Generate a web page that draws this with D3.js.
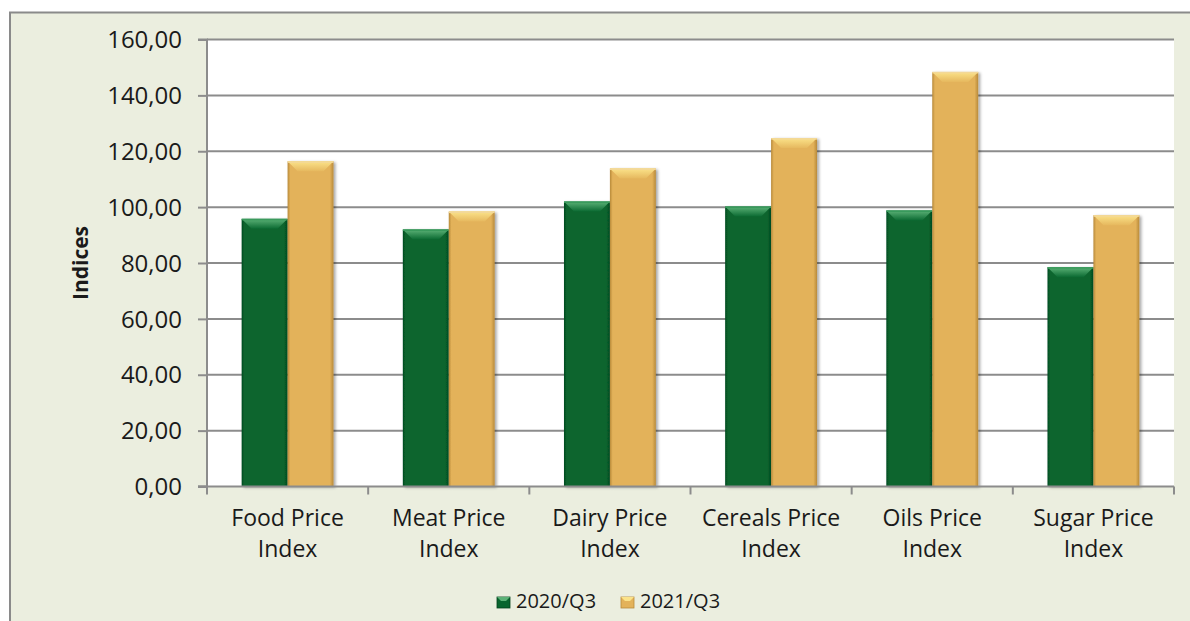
<!DOCTYPE html>
<html><head><meta charset="utf-8">
<script src="https://cdn.jsdelivr.net/npm/d3@7"></script>
<style>
html,body{margin:0;padding:0;background:#fff;}
svg{display:block;}
text{font-family:"Open Sans",sans-serif;fill:#1a1a1a;}
</style></head>
<body><svg id="c" width="1190" height="621"></svg>
<script>
const categories = [["Food Price","Index"],["Meat Price","Index"],["Dairy Price","Index"],["Cereals Price","Index"],["Oils Price","Index"],["Sugar Price","Index"]];
const seriesNames = ["2020/Q3","2021/Q3"];
const values2020 = [95.8, 92.0, 102.0, 100.2, 98.8, 78.5];
const values2021 = [116.4, 98.4, 113.8, 124.7, 148.4, 97.1];
const yTicks = [0,20,40,60,80,100,120,140,160];

const svg = d3.select("#c");
const W = 1190, H = 621;
const plot = {l:207, r:1174, t:39.5, b:486.5};

svg.append("rect").attr("x",0).attr("y",0).attr("width",W).attr("height",H).attr("fill","#fff");
svg.append("rect").attr("x",10).attr("y",12.5).attr("width",W).attr("height",H)
  .attr("fill","#ebeedf").attr("stroke","#8a8a8a").attr("stroke-width",2);
svg.append("rect").attr("x",plot.l).attr("y",plot.t).attr("width",plot.r-plot.l).attr("height",plot.b-plot.t).attr("fill","#fff");

const defs = svg.append("defs");
function bodyGrad(id, edge, mid){
  const g = defs.append("linearGradient").attr("id",id).attr("x1",0).attr("x2",1).attr("y1",0).attr("y2",0);
  g.append("stop").attr("offset",0).attr("stop-color",edge);
  g.append("stop").attr("offset",0.06).attr("stop-color",mid);
  g.append("stop").attr("offset",0.92).attr("stop-color",mid);
  g.append("stop").attr("offset",1).attr("stop-color",edge);
}
function bevGrad(id, top, bot){
  const g = defs.append("linearGradient").attr("id",id).attr("x1",0).attr("x2",0).attr("y1",0).attr("y2",1);
  g.append("stop").attr("offset",0).attr("stop-color",top);
  g.append("stop").attr("offset",1).attr("stop-color",bot);
}
bodyGrad("gBody","#054a20","#08652e");
bodyGrad("yBody","#b88a3a","#e3b25a");
bevGrad("gBev","#5cb277","#0b6a32");
bevGrad("yBev","#fbe38a","#e6b85e");
const filt = defs.append("filter").attr("id","sh").attr("x","-20%").attr("y","-5%").attr("width","150%").attr("height","115%");
filt.append("feDropShadow").attr("dx",2).attr("dy",1).attr("stdDeviation",1.5).attr("flood-color","#000").attr("flood-opacity",0.35);

const y = d3.scaleLinear().domain([0,160]).range([plot.b, plot.t]);
const x0 = d3.scaleBand().domain(d3.range(categories.length)).range([plot.l, plot.r]).paddingInner(0.43).paddingOuter(0.215);
const x1 = d3.scaleBand().domain(seriesNames).range([0, x0.bandwidth()]);

svg.append("g").selectAll("line").data(yTicks.filter(d=>d>0)).join("line")
  .attr("x1",plot.l).attr("x2",plot.r).attr("y1",d=>y(d)).attr("y2",d=>y(d))
  .attr("stroke","#8c8c8c").attr("stroke-width",2);

const yAxis = d3.axisLeft(y).tickValues(yTicks).tickSize(9).tickPadding(16)
  .tickFormat(d=>d3.format(".2f")(d).replace(".",","));
const gy = svg.append("g").attr("transform",`translate(${plot.l},0)`).call(yAxis);
gy.select(".domain").attr("stroke","#8c8c8c").attr("stroke-width",2).attr("d",`M-9,${plot.t}H0V${plot.b}H-9`);
gy.selectAll(".tick line").attr("stroke","#8c8c8c").attr("stroke-width",2);
gy.selectAll(".tick text").attr("font-size",24).attr("font-family","'Open Sans',sans-serif").attr("fill","#1a1a1a").attr("dy","0.34em");

const data = categories.map((c,i)=>({i, vals:[{s:seriesNames[0],v:values2020[i]},{s:seriesNames[1],v:values2021[i]}]}));
const grp = svg.append("g").selectAll("g").data(data).join("g").attr("transform",d=>`translate(${x0(d.i)},0)`);
const bars = grp.selectAll("g").data(d=>d.vals).join("g");
const bev = 10;
bars.append("rect")
  .attr("x",d=>x1(d.s)).attr("width",x1.bandwidth())
  .attr("y",d=>y(d.v)).attr("height",d=>y(0)-y(d.v))
  .attr("fill",d=>d.s===seriesNames[0]?"url(#gBody)":"url(#yBody)")
  .attr("filter","url(#sh)");
bars.append("path")
  .attr("d",d=>{const xl=x1(d.s), xr=xl+x1.bandwidth(), t=y(d.v);
    return `M${xl},${t}H${xr}L${xr-bev},${t+bev}H${xl+bev}Z`;})
  .attr("fill",d=>d.s===seriesNames[0]?"url(#gBev)":"url(#yBev)");
bars.append("rect")
  .attr("x",d=>x1(d.s)).attr("width",x1.bandwidth())
  .attr("y",d=>y(d.v)).attr("height",1.5)
  .attr("fill",d=>d.s===seriesNames[0]?"#3a9a5c":"#f3d898");

const xb = d3.scaleLinear().domain([0,categories.length]).range([plot.l, plot.r]);
const gx = svg.append("g");
gx.append("line").attr("x1",plot.l-9).attr("x2",plot.r).attr("y1",plot.b).attr("y2",plot.b).attr("stroke","#8c8c8c").attr("stroke-width",2);
gx.selectAll("line.t").data(d3.range(categories.length+1)).join("line").attr("class","t")
  .attr("x1",d=>xb(d)).attr("x2",d=>xb(d)).attr("y1",plot.b).attr("y2",plot.b+8)
  .attr("stroke","#8c8c8c").attr("stroke-width",2);
const lbl = gx.selectAll("text").data(categories).join("text")
  .attr("x",(d,i)=>x0(i)+x0.bandwidth()/2).attr("y",526)
  .attr("text-anchor","middle").attr("font-size",23);
lbl.selectAll("tspan").data(d=>d).join("tspan")
  .attr("x",function(){return this.parentNode.getAttribute("x");})
  .attr("dy",(d,i)=>i===0?0:31).text(d=>d);

svg.append("text").attr("transform","translate(88,263) rotate(-90)")
  .attr("text-anchor","middle").attr("font-size",21).attr("font-weight","bold").text("Indices");

const legX = [497, 621];
const leg = svg.append("g").selectAll("g").data(seriesNames).join("g")
  .attr("transform",(d,i)=>`translate(${legX[i]},597)`);
leg.append("rect").attr("width",13).attr("height",11)
  .attr("fill",(d,i)=>i===0?"#08652e":"#e3b25a").attr("stroke",(d,i)=>i===0?"#04421d":"#b88a3a").attr("stroke-width",0.8);
leg.append("path").attr("d","M0,0H13L9,4H4Z").attr("fill",(d,i)=>i===0?"#5cb277":"#fbe38a");
leg.append("text").attr("x",19).attr("y",11).attr("font-size",20).text(d=>d);
</script></body></html>
